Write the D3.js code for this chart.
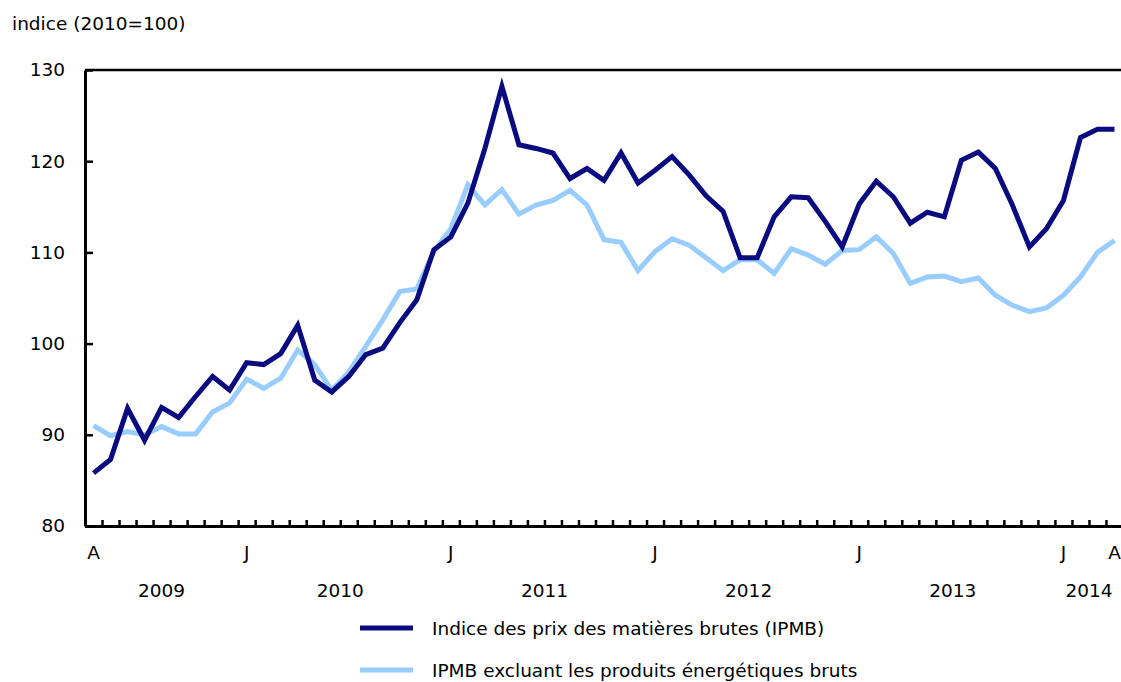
<!DOCTYPE html>
<html>
<head>
<meta charset="utf-8">
<script src="https://cdn.jsdelivr.net/npm/d3@7"></script>
<style>
  body { margin: 0; background: #fff; }
  svg text { font-family: "DejaVu Sans", sans-serif; font-size: 18.5px; fill: #000; }
</style>
</head>
<body>
<svg id="chart" width="1121" height="682"></svg>
<script>
// monthly, April 2009 to April 2014
var months = d3.timeMonth.range(new Date(2009, 3, 1), new Date(2014, 4, 1));

var ipmb = [85.8, 87.3, 92.9, 89.4, 93.0, 91.9, 94.2, 96.4, 94.9,
  97.9, 97.7, 98.9, 102.0, 96.0, 94.7, 96.4, 98.8, 99.5, 102.3, 104.8, 110.3,
  111.7, 115.4, 121.4, 128.2, 121.8, 121.4, 120.9, 118.1, 119.2, 117.9, 120.9, 117.6,
  119.0, 120.5, 118.5, 116.2, 114.5, 109.4, 109.4, 113.9, 116.1, 116.0, 113.4, 110.6,
  115.3, 117.8, 116.1, 113.2, 114.4, 113.9, 120.1, 121.0, 119.2, 115.2, 110.6, 112.6,
  115.7, 122.6, 123.5, 123.5];

var ipmbSansEnergie = [91.0, 89.9, 90.35, 90.0, 90.9, 90.1, 90.1, 92.5, 93.5,
  96.1, 95.1, 96.2, 99.3, 97.7, 94.9, 96.9, 99.7, 102.6, 105.7, 106.0, 110.1,
  112.6, 117.4, 115.2, 116.9, 114.2, 115.2, 115.7, 116.8, 115.2, 111.4, 111.1, 108.0,
  110.1, 111.5, 110.8, 109.4, 108.0, 109.2, 109.2, 107.7, 110.4, 109.7, 108.7, 110.2,
  110.3, 111.7, 109.9, 106.6, 107.3, 107.4, 106.8, 107.2, 105.3, 104.2, 103.5, 103.9,
  105.3, 107.3, 110.0, 111.3];

var yTicks = [80, 90, 100, 110, 120, 130];
var monthTickIdx = [0, 9, 21, 33, 45, 57, 60];
var monthTickLabels = ["A", "J", "J", "J", "J", "J", "A"];
var years = ["2009", "2010", "2011", "2012", "2013", "2014"];

var seriesNames = ["Indice des prix des matières brutes (IPMB)",
                   "IPMB excluant les produits énergétiques bruts"];
var colors = ["#0b0b80", "#99ccff"];

var mLeft = 85, mRight = 1123, mTop = 70, mBottom = 526;

var svg = d3.select("#chart");

var x = d3.scaleLinear().domain([-0.5, months.length - 0.5]).range([mLeft, mRight]);
var y = d3.scaleLinear().domain([80, 130]).range([mBottom, mTop]);

// title
svg.append("text").attr("x", 12).attr("y", 30).text("indice (2010=100)");

// frame top
svg.append("line")
  .attr("x1", mLeft).attr("x2", mRight)
  .attr("y1", mTop).attr("y2", mTop)
  .attr("stroke", "#000").attr("stroke-width", 2.5);

// y axis
var yAxis = svg.append("g")
  .attr("transform", "translate(" + mLeft + ",0)")
  .call(d3.axisLeft(y).tickValues(yTicks).tickSize(-8).tickPadding(20).tickSizeOuter(0));
yAxis.select(".domain").attr("stroke-width", 3);
yAxis.selectAll(".tick line").attr("stroke-width", 2.5);
yAxis.selectAll("text").style("font-size", "18.5px").style("font-family", "DejaVu Sans, sans-serif");

// x axis with monthly ticks between points
var xAxis = svg.append("g")
  .attr("transform", "translate(0," + mBottom + ")")
  .call(d3.axisBottom(x).tickValues(d3.range(0.5, months.length - 1, 1))
    .tickSize(-6).tickSizeOuter(0).tickFormat(""));
xAxis.select(".domain").attr("stroke-width", 3);
xAxis.selectAll(".tick line").attr("stroke-width", 2.5);

// month letters
svg.selectAll(".mlab")
  .data(monthTickIdx)
  .enter().append("text")
  .attr("class", "mlab")
  .attr("text-anchor", "middle")
  .attr("x", function(d) { return x(d); })
  .attr("y", 559)
  .text(function(d, i) { return monthTickLabels[i]; });

// years centred on their months
svg.selectAll(".ylab")
  .data(years)
  .enter().append("text")
  .attr("class", "ylab")
  .attr("text-anchor", "middle")
  .attr("x", function(yr) {
    var idx = months.map(function(m, i) { return m.getFullYear() == +yr ? i : -1; })
      .filter(function(i) { return i >= 0; });
    return (x(idx[0] - 0.5) + x(idx[idx.length - 1] + 0.5)) / 2;
  })
  .attr("y", 597)
  .text(function(d) { return d; });

// lines
var line = d3.line()
  .x(function(d, i) { return x(i); })
  .y(function(d) { return y(d); });

[ipmbSansEnergie, ipmb].forEach(function(s, k) {
  svg.append("path")
    .datum(s)
    .attr("d", line)
    .attr("fill", "none")
    .attr("stroke", colors[1 - k])
    .attr("stroke-width", 5)
    .attr("stroke-linejoin", "miter");
});

// legend
var legend = svg.selectAll(".leg")
  .data(seriesNames)
  .enter().append("g")
  .attr("class", "leg")
  .attr("transform", function(d, i) { return "translate(360," + (628 + i * 42) + ")"; });

legend.append("line")
  .attr("x1", 0).attr("x2", 53)
  .attr("stroke", function(d, i) { return colors[i]; })
  .attr("stroke-width", 5);

legend.append("text")
  .attr("x", 72)
  .attr("y", 7)
  .text(function(d) { return d; });
</script>
</body>
</html>
